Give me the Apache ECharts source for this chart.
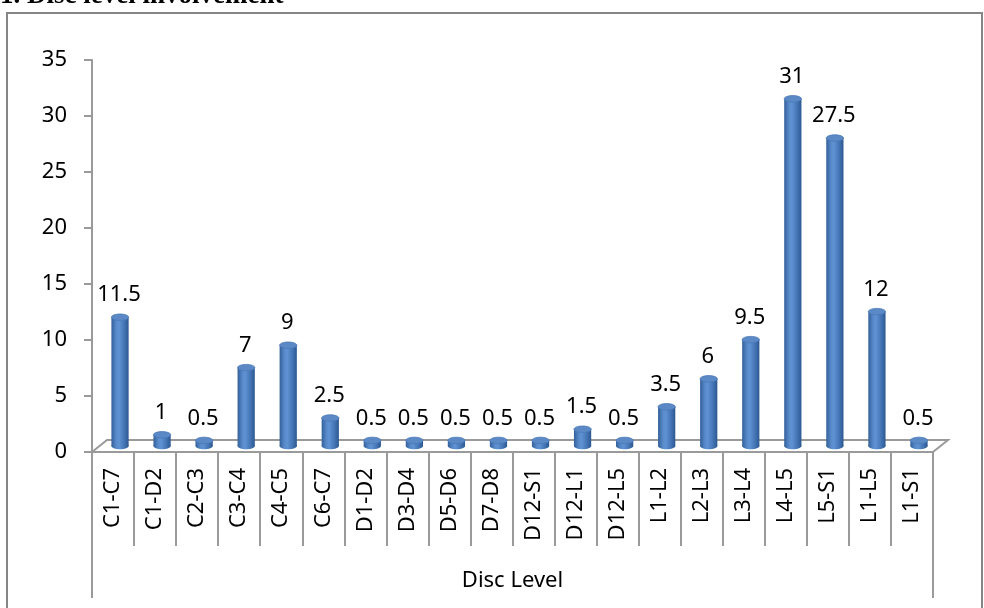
<!DOCTYPE html>
<html><head><meta charset="utf-8">
<script src="https://cdn.jsdelivr.net/npm/echarts@6/dist/echarts.min.js"></script>
<style>html,body{margin:0;padding:0;background:#fff}#c{width:984px;height:608px}</style>
</head><body><div id="c"></div>
<script>
const categories = ['C1-C7','C1-D2','C2-C3','C3-C4','C4-C5','C6-C7','D1-D2','D3-D4','D5-D6','D7-D8','D12-S1','D12-L1','D12-L5','L1-L2','L2-L3','L3-L4','L4-L5','L5-S1','L1-L5','L1-S1'];
const values = [11.5,1,0.5,7,9,2.5,0.5,0.5,0.5,0.5,0.5,1.5,0.5,3.5,6,9.5,31,27.5,12,0.5];
const yTicks = {min:0, max:35, interval:5};
const axisTitle = ['Disc Level'];
const titleText = '1. Disc level involvement';

const FONT = 'Noto Sans';
const FS = 22;
const AX = '#9a9a9a';
const DX = 7, DY = 6; // depth shift for 3D look

const chart = echarts.init(document.getElementById('c'), null, {renderer:'canvas'});

function barItem(params, api){
  const v = api.value(1);
  const c = api.coord([api.value(0), v]);
  const b = api.coord([api.value(0), 0]);
  const bw = api.size([1,0])[0];
  const w = bw*0.41;
  const cx = c[0] + DX;
  const top = c[1] - DY;
  const base = b[1] - DY;
  const rx = w/2, ry = 3.2;
  const grad = new echarts.graphic.LinearGradient(0,0,1,0,[
    {offset:0,color:'#33609a'},{offset:0.3,color:'#5a8ccc'},{offset:0.45,color:'#5f92d2'},{offset:0.8,color:'#3f6fae'},{offset:1,color:'#2d5890'}
  ]);
  return {type:'group', children:[
    {type:'ellipse', shape:{cx:cx, cy:base, rx:rx, ry:ry}, style:{fill:grad}},
    {type:'rect', shape:{x:cx-rx, y:top, width:w, height:Math.max(base-top,0)}, style:{fill:grad}},
    {type:'ellipse', shape:{cx:cx, cy:top, rx:rx, ry:ry}, style:{fill:'#5b89c6', stroke:'#4a78b8', lineWidth:0.8}},
    {type:'text', x:cx-1, y:top-11, style:{text:String(v), fill:'#000', font:FS+'px "'+FONT+'"', align:'center', verticalAlign:'bottom'}}
  ]};
}

function floorItem(params, api){
  const n = categories.length;
  const bw = api.size([1,0])[0];
  const l = api.coord([0,0]);
  const r = api.coord([n-1,0]);
  const x0 = l[0]-bw/2, x1 = r[0]+bw/2, y = l[1];
  return {type:'polyline', shape:{points:[[x0,y],[x0+2*DX+1,y-2*DY],[x1+2*DX+1,y-2*DY],[x1,y]]}, style:{stroke:AX, lineWidth:2, fill:null}, z2:1};
}

chart.setOption({
  animation:false,
  grid:{left:92, right:51, top:60, bottom:156, containLabel:false},
  graphic:[
    {type:'rect', shape:{x:7, y:13, width:975, height:620}, style:{fill:null, stroke:'#868686', lineWidth:2}, z:-1},
    {type:'text', left:0, top:-17, style:{text:titleText, font:'bold 27px "Liberation Serif"', fill:'#000'}}
  ],
  xAxis:[
    {type:'category', data:categories, boundaryGap:true,
     axisLine:{show:true, lineStyle:{color:AX, width:2}},
     axisTick:{show:true, alignWithLabel:false, interval:0, length:94, lineStyle:{color:AX, width:2}},
     axisLabel:{interval:0, rotate:90, margin:16, color:'#000', fontFamily:FONT, fontSize:FS}},
    {type:'category', data:axisTitle, position:'bottom', boundaryGap:true,
     axisLine:{show:false},
     axisTick:{show:true, length:146, lineStyle:{color:AX, width:2}},
     axisLabel:{margin:118, color:'#000', fontFamily:FONT, fontSize:FS}}
  ],
  yAxis:{type:'value', min:yTicks.min, max:yTicks.max, interval:yTicks.interval,
    splitLine:{show:false},
    axisLine:{show:true, lineStyle:{color:AX, width:2}},
    axisTick:{show:true, length:8, lineStyle:{color:AX, width:2}},
    axisLabel:{margin:25, color:'#000', fontFamily:FONT, fontSize:FS}},
  series:[
    {type:'custom', xAxisIndex:0, data:[[0]], renderItem:floorItem, silent:true, z:1},
    {type:'custom', xAxisIndex:0, data:values.map((v,i)=>[i,v]), renderItem:barItem, z:2}
  ]
});
</script></body></html>
